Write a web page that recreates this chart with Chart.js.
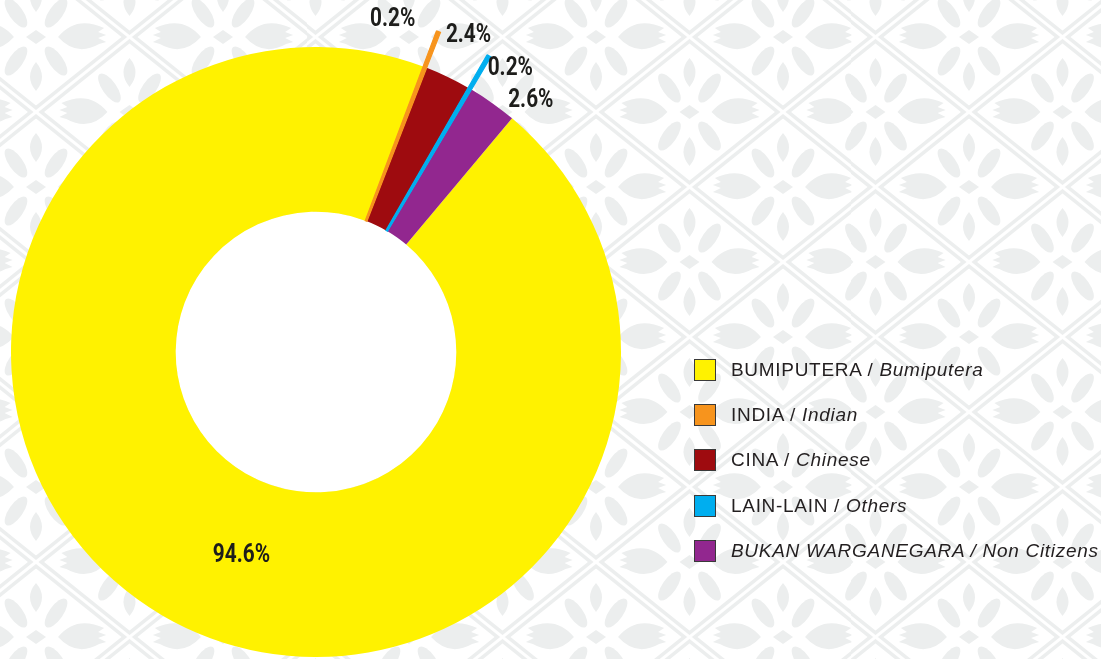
<!DOCTYPE html>
<html>
<head>
<meta charset="utf-8">
<script src="https://cdn.jsdelivr.net/npm/chart.js@4/dist/chart.umd.min.js"></script>
<style>
    html, body { margin: 0; padding: 0; }
    body {
        width: 1101px; height: 659px; overflow: hidden;
        background-color: #fff;
        background-repeat: repeat;
        background-size: 186.67px 150px;
        background-position: 36px 37px;
        position: relative;
    }
    #wrap { position: absolute; left: 0; top: 0; width: 1101px; height: 659px; }
    #legend { position: absolute; left: 694px; top: 359px; font-family: "Liberation Sans", Arial, sans-serif; font-size: 19px; letter-spacing: 0.7px; color: #231f20; }
    .row { height: 45.2px; display: flex; align-items: flex-start; }
    .box { width: 22px; height: 22px; box-sizing: border-box; border: 1.5px solid #3a3a3a; margin-right: 15px; flex: none; }
    .txt { line-height: 22px; white-space: nowrap; }
</style>
</head>
<body>
<div id="wrap"><canvas id="chart"></canvas></div>
<div id="legend"></div>
<script>
const categories = ['BUMIPUTERA', 'INDIA', 'CINA', 'LAIN-LAIN', 'BUKAN WARGANEGARA'];
const categoriesEn = ['Bumiputera', 'Indian', 'Chinese', 'Others', 'Non Citizens'];
const shares = [94.6, 0.2, 2.4, 0.2, 2.6];
const sliceColors = ['#FFF200', '#F7941D', '#9E0B0F', '#00AEEF', '#92278F'];

// light batik-like tile behind everything
const tileFill = '#eceeee';
const tileSvg = `<svg xmlns='http://www.w3.org/2000/svg' width='186.67' height='150' viewBox='0 0 186.67 150'>
<defs><g id='f' fill='${tileFill}'>
<path d='M0,-54 Q12,-40 0,-25 Q-12,-40 0,-54Z'/>
<path d='M0,54 Q12,40 0,25 Q-12,40 0,54Z'/>
<path d='M22,0 Q40,-22 68,-9 L62,-5 L70,-2 L62,1 L70,5 L63,7 Q40,20 22,0Z'/>
<path d='M-22,0 Q-40,-22 -68,-9 L-62,-5 L-70,-2 L-62,1 L-70,5 L-63,7 Q-40,20 -22,0Z'/>
<ellipse cx='0' cy='0' rx='17' ry='7' transform='translate(20,-24) rotate(-55)'/>
<ellipse cx='0' cy='0' rx='17' ry='7' transform='translate(-20,-24) rotate(55)'/>
<ellipse cx='0' cy='0' rx='17' ry='7' transform='translate(20,24) rotate(55)'/>
<ellipse cx='0' cy='0' rx='17' ry='7' transform='translate(-20,24) rotate(-55)'/>
<path d='M0,-7 L10,0 L0,7 L-10,0Z'/>
</g></defs>
<g stroke='${tileFill}' stroke-width='10' fill='none'>
<line x1='186.67' y1='-75' x2='-93.33' y2='150'/><line x1='280' y1='0' x2='0' y2='225'/>
<line x1='0' y1='-75' x2='280' y2='150'/><line x1='-93.33' y1='0' x2='186.67' y2='225'/>
</g>
<g stroke='#ffffff' stroke-width='3' fill='none'>
<line x1='186.67' y1='-75' x2='-93.33' y2='150'/><line x1='280' y1='0' x2='0' y2='225'/>
<line x1='0' y1='-75' x2='280' y2='150'/><line x1='-93.33' y1='0' x2='186.67' y2='225'/>
</g>
<use href='#f' x='0' y='0'/><use href='#f' x='186.67' y='0'/><use href='#f' x='0' y='150'/>
<use href='#f' x='186.67' y='150'/><use href='#f' x='93.33' y='75'/>
</svg>`;
document.body.style.backgroundImage = `url("data:image/svg+xml,${encodeURIComponent(tileSvg)}")`;

const deg = Math.PI / 180;

const sliceExtras = {
    id: 'sliceExtras',
    beforeDatasetsDraw(chart) {
        const arc = chart.getDatasetMeta(0).data[0];
        if (!arc) return;
        const { ctx } = chart;
        ctx.save();
        ctx.fillStyle = '#ffffff';
        ctx.beginPath();
        ctx.arc(arc.x, arc.y, arc.innerRadius, 0, Math.PI * 2);
        ctx.fill();
        ctx.restore();
    },
    afterDatasetsDraw(chart, args, opts) {
        const { ctx } = chart;
        const arcs = chart.getDatasetMeta(0).data;
        arcs.forEach((arc, i) => {
            const extra = opts.reach[i] || 0;
            if (!extra) return;
            const r = arc.outerRadius;
            arc.outerRadius = r + extra;
            arc.draw(ctx);
            // thin slices look a touch wider in the print
            ctx.save();
            ctx.strokeStyle = sliceColors[i];
            ctx.lineWidth = 1.2;
            ctx.stroke();
            ctx.restore();
            arc.outerRadius = r;
        });
        ctx.save();
        ctx.font = opts.font;
        ctx.fillStyle = opts.color;
        ctx.textAlign = 'center';
        ctx.textBaseline = 'middle';
        arcs.forEach((arc, i) => {
            const mid = (arc.startAngle + arc.endAngle) / 2 + opts.angleShift[i] * deg;
            const r = opts.radius[i];
            const x = arc.x + Math.cos(mid) * r;
            const y = arc.y + Math.sin(mid) * r + 2;
            ctx.save();
            ctx.translate(x, y);
            ctx.scale(opts.squeeze, 1);
            ctx.fillText(shares[i].toFixed(1) + '%', 0, 0);
            ctx.restore();
        });
        ctx.restore();
    }
};

new Chart(document.getElementById('chart').getContext('2d'), {
    type: 'doughnut',
    data: {
        labels: categories,
        datasets: [{
            data: shares,
            backgroundColor: sliceColors,
            borderWidth: 0
        }]
    },
    options: {
        responsive: true,
        maintainAspectRatio: false,
        animation: false,
        rotation: 40,
        cutout: '46%',
        layout: { padding: { left: 11, right: 480, top: 47, bottom: 2 } },
        plugins: {
            legend: { display: false },
            tooltip: { enabled: false },
            sliceExtras: {
                reach: [0, 38, 0, 38, 0],
                radius: [215, 343, 353, 345, 332],
                angleShift: [-10, -8, 0, 4, 5],
                font: 'bold 26px Roboto, "Liberation Sans", sans-serif',
                squeeze: 0.8,
                color: '#1d1d1b'
            }
        }
    },
    plugins: [sliceExtras]
});

const legendEl = document.getElementById('legend');
categories.forEach((name, i) => {
    const row = document.createElement('div');
    row.className = 'row';
    const box = document.createElement('div');
    box.className = 'box';
    box.style.background = sliceColors[i];
    const txt = document.createElement('div');
    txt.className = 'txt';
    const malay = document.createElement('span');
    malay.textContent = name + ' / ';
    if (i === categories.length - 1) malay.style.fontStyle = 'italic';
    const en = document.createElement('i');
    en.textContent = categoriesEn[i];
    txt.append(malay, en);
    row.append(box, txt);
    legendEl.append(row);
});
</script>
</body>
</html>
